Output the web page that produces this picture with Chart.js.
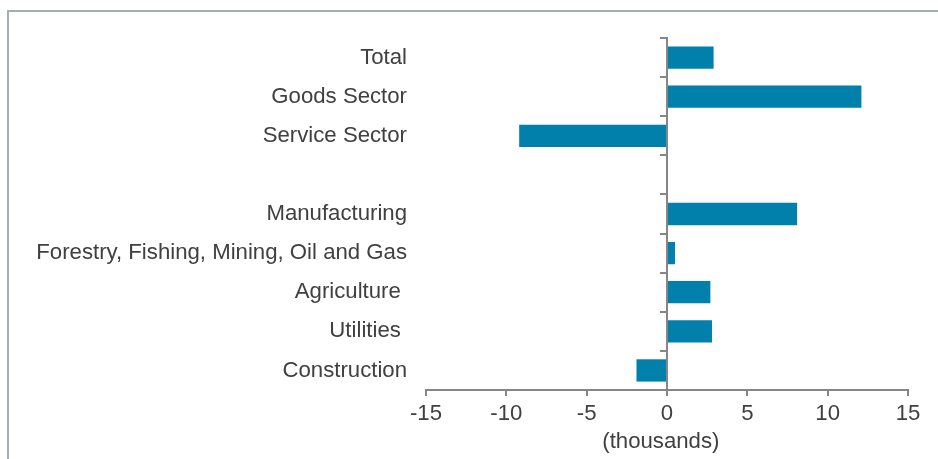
<!DOCTYPE html>
<html>
<head>
<meta charset="utf-8">
<script src="https://cdn.jsdelivr.net/npm/chart.js@4"></script>
<style>
  html, body { margin: 0; padding: 0; background: #fff; }
  #wrap { width: 938px; height: 459px; position: relative; }
</style>
</head>
<body>
<div id="wrap"><canvas id="barChartID"></canvas></div>
<script>
  // categories and values (thousands)
  var categories = ["Total", "Goods Sector", "Service Sector", "", "Manufacturing",
      "Forestry, Fishing, Mining, Oil and Gas", "Agriculture ", "Utilities ", "Construction"];
  var changes = [2.9, 12.1, -9.2, null, 8.1, 0.5, 2.7, 2.8, -1.9];
  var xTicks = [-15, -10, -5, 0, 5, 10, 15];

  var textColor = '#404040';
  var axisColor = '#868686';
  var labelFont = { family: 'Arial, "Liberation Sans"', size: 22.2 };

  // grey frame at top and left
  var framePlugin = {
      id: 'frame',
      afterDraw: function (chart) {
          var c = chart.ctx;
          c.save();
          c.strokeStyle = '#a7aeb2';
          c.lineWidth = 2;
          c.beginPath();
          c.moveTo(938, 11);
          c.lineTo(8, 11);
          c.lineTo(8, 459);
          c.stroke();
          c.restore();
      }
  };

  var ctx = document.getElementById('barChartID').getContext('2d');
  var myChart = new Chart(ctx, {
      type: 'bar',
      plugins: [framePlugin],
      data: {
          labels: categories,
          datasets: [{
              data: changes,
              backgroundColor: '#0080ab',
              barPercentage: 0.57,
              categoryPercentage: 1
          }]
      },
      options: {
          indexAxis: 'y',
          responsive: true,
          maintainAspectRatio: false,
          animation: false,
          layout: { padding: { top: 38, right: 30, left: 8, bottom: 0 } },
          plugins: {
              legend: { display: false },
              tooltip: { enabled: false }
          },
          scales: {
              x: {
                  type: 'linear',
                  min: -15,
                  max: 15,
                  afterBuildTicks: function (axis) {
                      axis.ticks = xTicks.map(function (v) { return { value: v }; });
                  },
                  afterFit: function (axis) { axis.height = 69; },
                  grid: { drawOnChartArea: false, tickLength: 6, color: axisColor, lineWidth: 2 },
                  border: { color: axisColor, width: 2 },
                  ticks: { color: textColor, padding: 5, font: labelFont },
                  title: {
                      display: true,
                      text: '(thousands)  ',
                      color: textColor,
                      padding: { top: 0, bottom: 4 },
                      font: labelFont
                  }
              },
              y: {
                  type: 'category',
                  offset: true,
                  afterFit: function (axis) { axis.width = 418; },
                  grid: { display: false, drawTicks: false, offset: true },
                  border: { display: false },
                  ticks: { color: textColor, padding: 19, autoSkip: false, font: labelFont }
              },
              y2: {
                  type: 'category',
                  axis: 'y',
                  position: { x: 0 },
                  offset: true,
                  grid: { offset: true, drawOnChartArea: false, drawTicks: true, tickLength: 6, color: axisColor, lineWidth: 2 },
                  border: { color: axisColor, width: 2 },
                  ticks: { display: false }
              }
          }
      }
  });
</script>
</body>
</html>
